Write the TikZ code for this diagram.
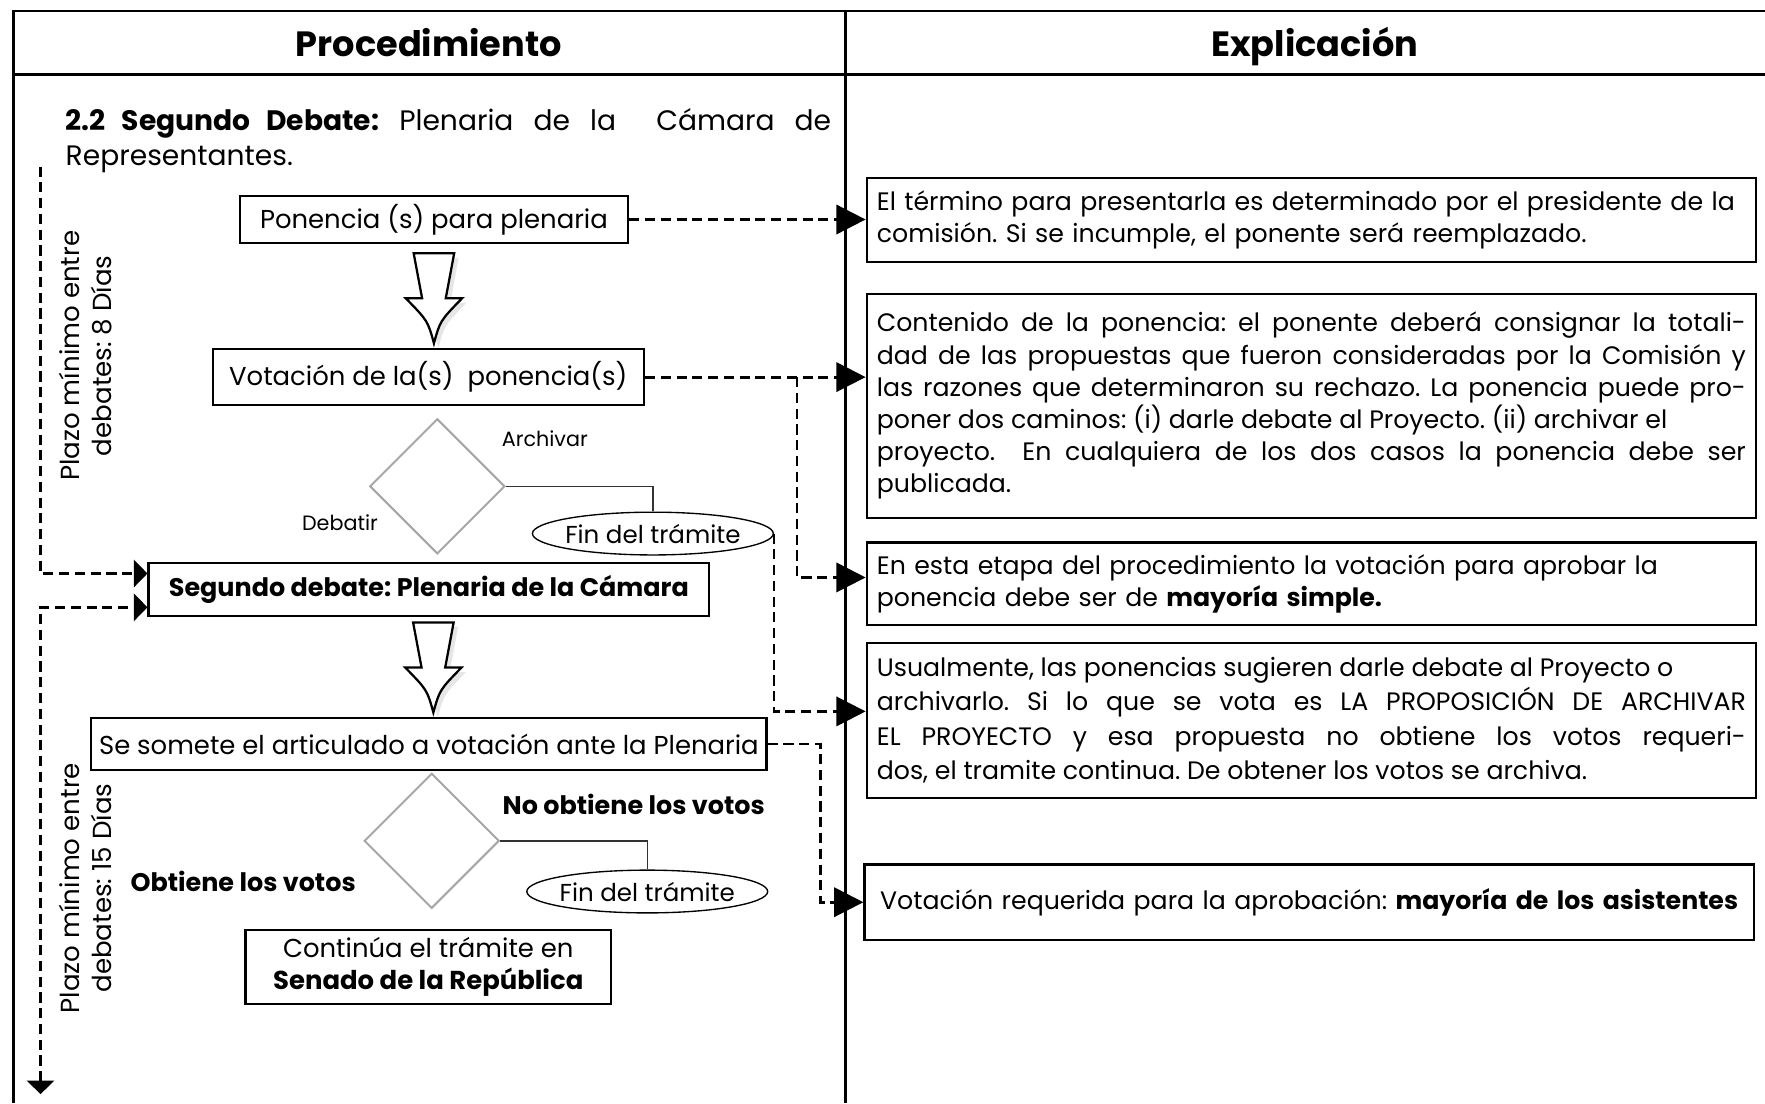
\documentclass[tikz,border=0pt]{standalone}
\usepackage{fontspec}
\setmainfont{Poppins}
\usetikzlibrary{arrows.meta,positioning,shapes.geometric,shadows}

\tikzset{
  caja/.style={draw, line width=1pt, inner sep=0pt, font=\fontsize{11.5}{14.5}\selectfont},
  nota/.style={draw, line width=1pt, anchor=west, inner xsep=4.5pt, inner ysep=0pt,
    text width=386pt, align=justify, font=\fontsize{11.2}{14.3}\selectfont},
  rombo/.style={diamond, draw=gray!70, line width=0.9pt, inner sep=0pt,
    minimum width=60pt, minimum height=60pt},
  fin/.style={ellipse, draw, line width=0.6pt, inner xsep=-6pt, inner ysep=0pt, minimum width=107pt,
    minimum height=19pt, font=\fontsize{10.9}{12}\selectfont},
  etiqueta/.style={font=\fontsize{9.2}{10}\selectfont},
  negrita/.style={font=\fontsize{11.3}{12}\selectfont\bfseries},
  plazo/.style={rotate=90, align=center, font=\fontsize{11.6}{14}\selectfont},
  encabezado/.style={anchor=base, font=\fontsize{15.6}{18}\selectfont\bfseries},
  rama/.style={draw=gray!40!black, line width=0.6pt},
  punteada/.style={line width=1.25pt, dash pattern=on 4.5pt off 2.5pt},
  hueca/.style={line width=1pt, fill=white, line join=miter,
    drop shadow={opacity=0.2, shadow xshift=2pt, shadow yshift=-2pt}},
}

% flecha hueca, #1 = punta
\newcommand{\flechahueca}[1]{%
  \draw[hueca] ([shift={(-18,-80)}]#1) -- ([shift={(18,-80)}]#1)
    -- ([shift={(10.5,-40)}]#1) -- ([shift={(25,-40)}]#1)
    .. controls ([shift={(5.5,-20)}]#1) .. (#1)
    .. controls ([shift={(-5.5,-20)}]#1) .. ([shift={(-25,-40)}]#1)
    -- ([shift={(-10.5,-40)}]#1) -- cycle;}

\begin{document}
\frenchspacing
\begin{tikzpicture}[x=0.5pt, y=-0.5pt, >={Triangle[length=13pt,width=13pt]}]
  \useasboundingbox (0,0) rectangle (1568,980);

  % tabla
  \draw[line width=1.1pt] (12,980) -- (12,10) -- (1568,10);
  \draw[line width=1.1pt] (12,66) -- (1568,66);
  \draw[line width=1.1pt] (751,10) -- (751,980);
  \node[encabezado] (proc) at (381,50) {Procedimiento};
  \node[encabezado] (expl) at (1168,50) {Explicación};

  \node[anchor=north west, inner sep=0pt, text width=340pt, align=justify,
    font=\fontsize{12.5}{15.5}\selectfont] (titulo) at (58,96)
    {\textbf{2.2 Segundo Debate:} Plenaria de la \ Cámara de\linebreak Representantes.};

  % procedimiento
  \node[caja, minimum width=172.5pt, minimum height=21pt] (ponencia) at (385.5,195) {Ponencia (s) para plenaria};
  \node[caja, minimum width=191.5pt, minimum height=25pt] (votacion) at (380.5,335) {Votación de la(s) \ ponencia(s)};
  \node[rombo] (decision1) at (388.5,432) {};
  \node[fin] (fin1) at (580,474) {Fin del trámite};
  \node[etiqueta] (archivar) at (484,390) {Archivar};
  \node[etiqueta] (debatir) at (302,464) {Debatir};
  \node[caja, font=\fontsize{11.3}{14}\selectfont\bfseries, minimum width=249pt, minimum height=23.5pt] (segundo) at (381,523.5) {Segundo debate: Plenaria de la Cámara};
  \node[caja, minimum width=300pt, minimum height=23pt] (somete) at (381,661) {Se somete el articulado a votación ante la Plenaria};
  \node[rombo] (decision2) at (383.5,747) {};
  \node[fin] (fin2) at (575,792) {Fin del trámite};
  \node[negrita] (noobtiene) at (563,715) {No obtiene los votos};
  \node[negrita] (obtiene) at (216,783) {Obtiene los votos};
  \node[caja, align=center, minimum width=162.5pt, minimum height=33pt] (continua) at (380.5,859)
    {Continúa el trámite en\\\textbf{Senado de la República}};

  \node[plazo] (plazo1) at (76,316) {Plazo mínimo entre\\debates: 8 Días};
  \node[plazo] (plazo2) at (76,789) {Plazo mínimo entre\\debates: 15 Días};

  \coordinate[yshift=2pt] (punta1) at (ponencia.south |- votacion.north);
  \coordinate[xshift=2pt, yshift=2pt] (punta2) at (segundo.south |- somete.north);
  \flechahueca{punta1}
  \flechahueca{punta2}

  \draw[rama] (decision1.east) -| (fin1.north);
  \draw[rama] (decision2.east) -| (fin2.north);

  % explicacion
  \node[nota, align=left, minimum height=37.5pt] (nota1) at (769,195.5)
    {El término para presentarla es determinado por el presidente de la\\comisión. Si se incumple, el ponente será reemplazado.};
  \node[nota, minimum height=99.5pt] (nota2) at (769,360.5)
    {Contenido de la ponencia: el ponente deberá consignar la totali-\linebreak
     dad de las propuestas que fueron consideradas por la Comisión y\linebreak
     las razones que determinaron su rechazo. La ponencia puede pro-\linebreak
     poner dos caminos: (i) darle debate al Proyecto. (ii) archivar el\newline
     proyecto. \ En cualquiera de los dos casos la ponencia debe ser\linebreak
     publicada.};
  \node[nota, align=left, minimum height=36.5pt] (nota3) at (769,518.5)
    {En esta etapa del procedimiento la votación para aprobar la\\ponencia debe ser de \textbf{mayoría simple.}};
  \node[nota, minimum height=69pt, font=\fontsize{11.2}{15.3}\selectfont] (nota4) at (769,640)
    {Usualmente, las ponencias sugieren darle debate al Proyecto o\newline
     archivarlo. Si lo que se vota es LA PROPOSICIÓN DE ARCHIVAR\linebreak
     EL PROYECTO y esa propuesta no obtiene los votos requeri-\linebreak
     dos, el tramite continua. De obtener los votos se archiva.};
  \node[nota, align=center, minimum height=33.5pt] (nota5) at (767,801.5)
    {Votación requerida para la aprobación: \textbf{mayoría de los asistentes}};

  % conectores
  \coordinate (plazoA) at (36,148);
  \coordinate (plazoB) at (36,972);
  \draw[punteada, -{Triangle[length=6pt,width=12pt]}] (plazoA) |- ([yshift=7pt]segundo.west);
  \draw[punteada, {Triangle[length=6pt,width=12pt]}-{Triangle[length=6pt,width=12pt]}] (plazoB) |- ([yshift=-8pt]segundo.west);

  \draw[punteada, ->] (ponencia.east) -- (ponencia.east -| nota1.west);
  \draw[punteada, ->] (votacion.east) -- (votacion.east -| nota2.west);
  \draw[punteada, ->] ([xshift=67.5pt]votacion.east) |- ([yshift=2.75pt]nota3.west);
  \draw[punteada, ->] (fin1.east) |- ([yshift=4pt]nota4.west);
  \draw[punteada, ->] (somete.east) -- ++(47,0) |- (nota5.west);
\end{tikzpicture}
\end{document}
